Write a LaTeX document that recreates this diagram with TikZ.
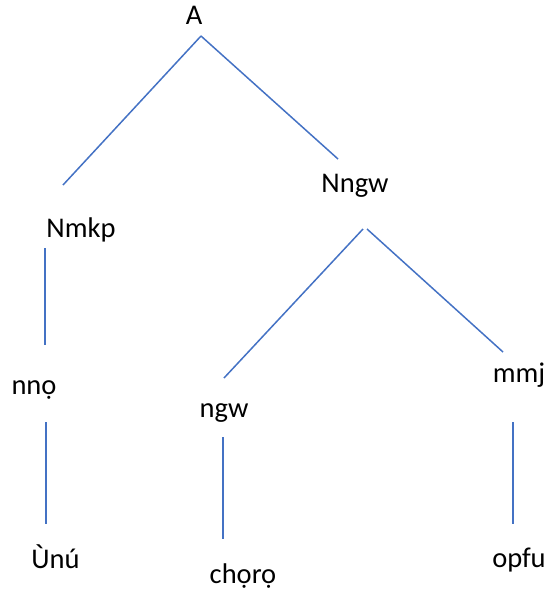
\documentclass[tikz,border=0pt]{standalone}
\usepackage{fontspec}
\setmainfont{Carlito}
\begin{document}
\begin{tikzpicture}[x=1pt,y=-1pt,
  lbl/.style={inner sep=0pt,anchor=base,font=\fontsize{28.5}{32}\selectfont},
  edge/.style={draw={rgb,255:red,68;green,114;blue,196},line width=1.5pt}]
\useasboundingbox (0,0) rectangle (547,592);
% labels
\node[lbl] (A) at (194,24) {A};
\node[lbl] (Nmkp) at (81,237) {Nmkp};
\node[lbl] (Nngw) at (355,192) {Nngw};
\node[lbl] (nno) at (34,394) {nnọ};
\node[lbl] (ngw) at (224,417) {ngw};
\node[lbl] (mmj) at (519,382) {mmj};
\node[lbl] (Unu) at (55.5,568) {Ùnú};
\node[lbl] (choro) at (243,583) {chọrọ};
\node[lbl] (opfu) at (519,567) {opfu};
% connector endpoints
\coordinate (A-bot) at (201,36);
\coordinate (Nmkp-top) at (63,185);
\coordinate (Nngw-top) at (338,159);
\coordinate (Nngw-botL) at (363,229);
\coordinate (Nngw-botR) at (367,229);
\coordinate (ngw-top) at (224,378);
\coordinate (mmj-top) at (503,352);
\coordinate (Nmkp-bot) at (45,248);
\coordinate (nno-top) at (45,345);
\coordinate (nno-bot) at (46,422);
\coordinate (Unu-top) at (46,524);
\coordinate (ngw-bot) at (223,437);
\coordinate (choro-top) at (223,539);
\coordinate (mmj-bot) at (513,422);
\coordinate (opfu-top) at (513,524);
% connectors
\draw[edge] (A-bot) -- (Nmkp-top);
\draw[edge] (A-bot) -- (Nngw-top);
\draw[edge] (Nngw-botL) -- (ngw-top);
\draw[edge] (Nngw-botR) -- (mmj-top);
\draw[edge] (Nmkp-bot) -- (nno-top);
\draw[edge] (nno-bot) -- (Unu-top);
\draw[edge] (ngw-bot) -- (choro-top);
\draw[edge] (mmj-bot) -- (opfu-top);
\end{tikzpicture}
\end{document}
